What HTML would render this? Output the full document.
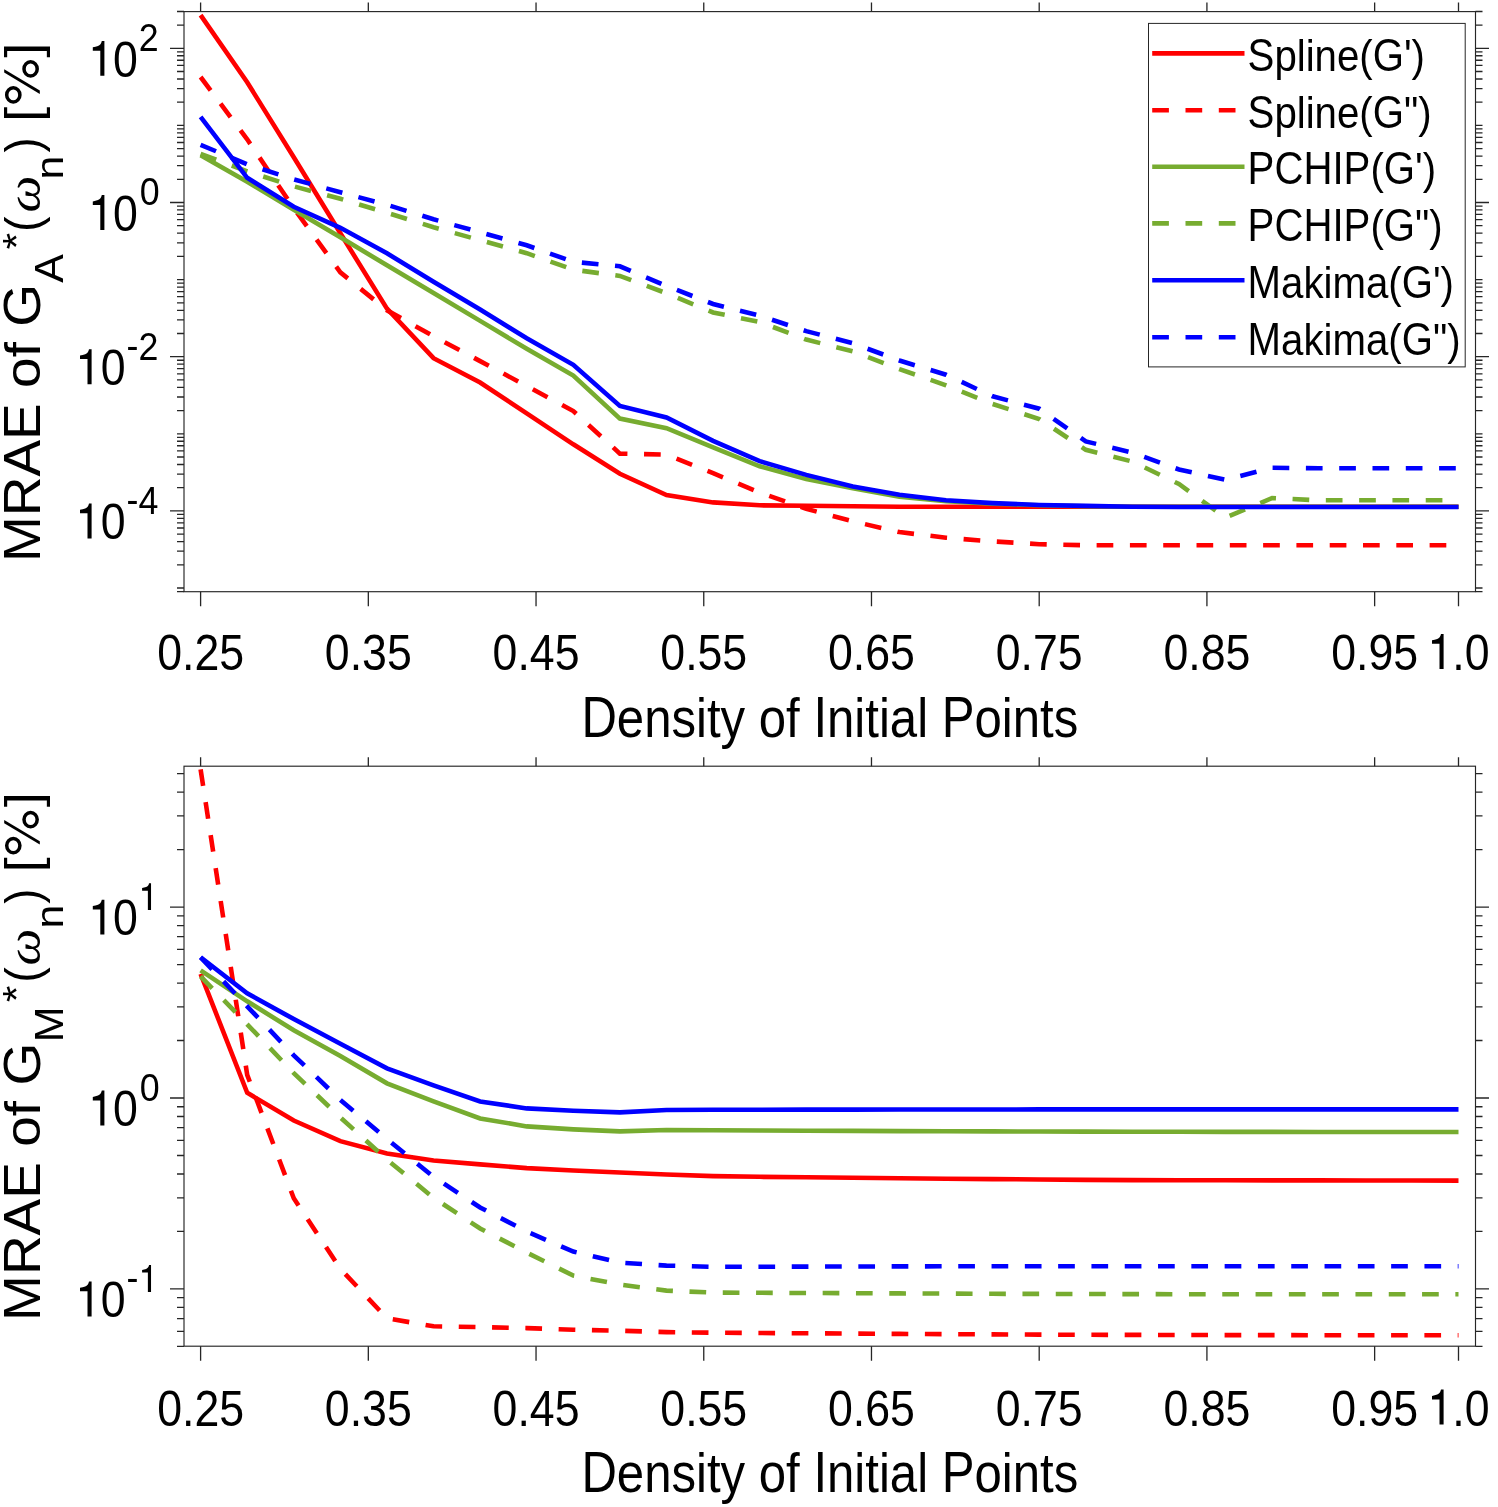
<!DOCTYPE html><html><head><meta charset="utf-8"><title>MRAE</title><style>html,body{margin:0;padding:0;background:#fff}svg{display:block;will-change:transform}text{font-family:"Liberation Sans",sans-serif;fill:#000}</style></head><body>
<svg width="1498" height="1507" viewBox="0 0 1498 1507">
<rect width="1498" height="1507" fill="#fff"/>
<defs></defs>
<clipPath id="c1"><rect x="184" y="11.6" width="1291.5" height="580.1"/></clipPath>
<g clip-path="url(#c1)" fill="none" stroke-width="4.6" stroke-linejoin="miter">
<polyline points="200.6,15.1 247.19,82.3 293.78,157.3 340.37,233.3 386.96,308.7 433.54,358.2 480.13,382.5 526.72,413.3 573.31,444.3 619.9,473.8 666.49,495 713.08,502.4 759.67,505.3 806.26,505.8 852.84,506.3 899.43,506.8 946.02,506.8 992.61,506.8 1039.2,506.8 1085.79,506.8 1132.38,506.8 1178.97,506.8 1225.56,506.8 1272.14,506.8 1318.73,506.8 1365.32,506.8 1411.91,506.8 1458.5,506.8" stroke="#ff0000"/>
<polyline points="200.6,77 247.19,139.3 293.78,208.3 340.37,272.3 386.96,310.3 433.54,336.3 480.13,361.1 526.72,386 573.31,411.1 619.9,453.6 666.49,454.7 713.08,473.2 759.67,492.5 806.26,508.8 852.84,521.3 899.43,532.1 946.02,537.7 992.61,541.4 1039.2,544.2 1085.79,545.3 1132.38,545.3 1178.97,545.3 1225.56,545.3 1272.14,545.3 1318.73,545.3 1365.32,545.3 1411.91,545.3 1458.5,545.3" stroke="#ff0000" stroke-dasharray="16.7 16.6"/>
<polyline points="200.6,155.3 247.19,181.8 293.78,209.8 340.37,237.3 386.96,265.3 433.54,292.9 480.13,320.9 526.72,348.8 573.31,375.5 619.9,418.6 666.49,428.2 713.08,447.3 759.67,466.3 806.26,479.1 852.84,488.3 899.43,496.6 946.02,501.3 992.61,503.7 1039.2,505.3 1085.79,506.3 1132.38,506.8 1178.97,506.8 1225.56,506.8 1272.14,506.8 1318.73,506.8 1365.32,506.8 1411.91,506.8 1458.5,506.8" stroke="#77ac30"/>
<polyline points="200.6,153.8 247.19,171.3 293.78,186.3 340.37,198.8 386.96,212.8 433.54,227.2 480.13,240.2 526.72,253.2 573.31,269.7 619.9,275.9 666.49,293.3 713.08,312.5 759.67,322 806.26,339.6 852.84,351.3 899.43,369.1 946.02,385.3 992.61,404 1039.2,419 1085.79,449.8 1132.38,461.6 1178.97,484 1225.56,517.7 1272.14,498 1318.73,500.3 1365.32,500.3 1411.91,500.3 1458.5,500.3" stroke="#77ac30" stroke-dasharray="16.7 16.6"/>
<polyline points="200.6,116.8 247.19,177.8 293.78,206.8 340.37,227.8 386.96,253.3 433.54,281.8 480.13,309.6 526.72,338.3 573.31,364.8 619.9,405.9 666.49,417.5 713.08,440.9 759.67,461.1 806.26,474.9 852.84,486.4 899.43,494.7 946.02,500.3 992.61,503.1 1039.2,505 1085.79,505.9 1132.38,506.8 1178.97,507 1225.56,507 1272.14,507 1318.73,507 1365.32,507 1411.91,507 1458.5,507" stroke="#0000ff"/>
<polyline points="200.6,144.8 247.19,164.3 293.78,179.3 340.37,192.3 386.96,204.8 433.54,219.3 480.13,232.3 526.72,245.3 573.31,261.8 619.9,266.3 666.49,285.9 713.08,304 759.67,315.7 806.26,331.1 852.84,343.3 899.43,360.5 946.02,374.7 992.61,396.3 1039.2,408.7 1085.79,441.4 1132.38,452.6 1178.97,469.5 1225.56,479.8 1272.14,467.8 1318.73,468.3 1365.32,468.3 1411.91,468.3 1458.5,468.3" stroke="#0000ff" stroke-dasharray="16.7 16.6"/>
</g>
<path d="M177 591.53H184M1475.5 591.53H1482.5M177 588H184M1475.5 588H1482.5M177 564.79H184M1475.5 564.79H1482.5M177 551.21H184M1475.5 551.21H1482.5M177 541.58H184M1475.5 541.58H1482.5M177 534.11H184M1475.5 534.11H1482.5M177 528H184M1475.5 528H1482.5M177 522.84H184M1475.5 522.84H1482.5M177 518.37H184M1475.5 518.37H1482.5M177 514.43H184M1475.5 514.43H1482.5M170 510.9H184M1475.5 510.9H1489M177 487.69H184M1475.5 487.69H1482.5M177 474.11H184M1475.5 474.11H1482.5M177 464.48H184M1475.5 464.48H1482.5M177 457.01H184M1475.5 457.01H1482.5M177 450.9H184M1475.5 450.9H1482.5M177 445.74H184M1475.5 445.74H1482.5M177 441.27H184M1475.5 441.27H1482.5M177 437.33H184M1475.5 437.33H1482.5M177 433.8H184M1475.5 433.8H1482.5M177 410.59H184M1475.5 410.59H1482.5M177 397.01H184M1475.5 397.01H1482.5M177 387.38H184M1475.5 387.38H1482.5M177 379.91H184M1475.5 379.91H1482.5M177 373.8H184M1475.5 373.8H1482.5M177 368.64H184M1475.5 368.64H1482.5M177 364.17H184M1475.5 364.17H1482.5M177 360.23H184M1475.5 360.23H1482.5M170 356.7H184M1475.5 356.7H1489M177 333.49H184M1475.5 333.49H1482.5M177 319.91H184M1475.5 319.91H1482.5M177 310.28H184M1475.5 310.28H1482.5M177 302.81H184M1475.5 302.81H1482.5M177 296.7H184M1475.5 296.7H1482.5M177 291.54H184M1475.5 291.54H1482.5M177 287.07H184M1475.5 287.07H1482.5M177 283.13H184M1475.5 283.13H1482.5M177 279.6H184M1475.5 279.6H1482.5M177 256.39H184M1475.5 256.39H1482.5M177 242.81H184M1475.5 242.81H1482.5M177 233.18H184M1475.5 233.18H1482.5M177 225.71H184M1475.5 225.71H1482.5M177 219.6H184M1475.5 219.6H1482.5M177 214.44H184M1475.5 214.44H1482.5M177 209.97H184M1475.5 209.97H1482.5M177 206.03H184M1475.5 206.03H1482.5M170 202.5H184M1475.5 202.5H1489M177 179.29H184M1475.5 179.29H1482.5M177 165.71H184M1475.5 165.71H1482.5M177 156.08H184M1475.5 156.08H1482.5M177 148.61H184M1475.5 148.61H1482.5M177 142.5H184M1475.5 142.5H1482.5M177 137.34H184M1475.5 137.34H1482.5M177 132.87H184M1475.5 132.87H1482.5M177 128.93H184M1475.5 128.93H1482.5M177 125.4H184M1475.5 125.4H1482.5M177 102.19H184M1475.5 102.19H1482.5M177 88.61H184M1475.5 88.61H1482.5M177 78.98H184M1475.5 78.98H1482.5M177 71.51H184M1475.5 71.51H1482.5M177 65.4H184M1475.5 65.4H1482.5M177 60.24H184M1475.5 60.24H1482.5M177 55.77H184M1475.5 55.77H1482.5M177 51.83H184M1475.5 51.83H1482.5M170 48.3H184M1475.5 48.3H1489M177 25.09H184M1475.5 25.09H1482.5M177 11.51H184M1475.5 11.51H1482.5M200.6 2.6V11.6M200.6 591.7V606.2M368.32 2.6V11.6M368.32 591.7V606.2M536.04 2.6V11.6M536.04 591.7V606.2M703.76 2.6V11.6M703.76 591.7V606.2M871.48 2.6V11.6M871.48 591.7V606.2M1039.2 2.6V11.6M1039.2 591.7V606.2M1206.92 2.6V11.6M1206.92 591.7V606.2M1374.64 2.6V11.6M1374.64 591.7V606.2M1458.5 2.6V11.6M1458.5 591.7V606.2" stroke="#262626" stroke-width="1.3" fill="none"/>
<rect x="184" y="11.6" width="1291.5" height="580.1" fill="none" stroke="#262626" stroke-width="1.15"/>
<rect x="1148.5" y="23.4" width="316.7" height="343.5" fill="#fff" stroke="#262626" stroke-width="1.0"/>
<path d="M1152.2 53.4H1244.5" stroke="#ff0000" stroke-width="4.6"/>
<text transform="translate(1247.6 70.7) scale(0.893 1) translate(0 0) scale(1 1.043)" font-size="45">S</text>
<text transform="translate(1247.6 70.7) scale(0.893 1) translate(30.01 0)" font-size="45">pline(</text>
<text transform="translate(1247.6 70.7) scale(0.893 1) translate(140.08 0) scale(1 1.043)" font-size="45">G</text>
<text transform="translate(1247.6 70.7) scale(0.893 1) translate(175.08 0)" font-size="45">&#39;)</text>
<path d="M1152.2 110.2H1244.5" stroke="#ff0000" stroke-width="4.6" stroke-dasharray="16.7 16.6"/>
<text transform="translate(1247.6 127.5) scale(0.893 1) translate(0 0) scale(1 1.043)" font-size="45">S</text>
<text transform="translate(1247.6 127.5) scale(0.893 1) translate(30.01 0)" font-size="45">pline(</text>
<text transform="translate(1247.6 127.5) scale(0.893 1) translate(140.08 0) scale(1 1.043)" font-size="45">G</text>
<text transform="translate(1247.6 127.5) scale(0.893 1) translate(175.08 0)" font-size="45">&quot;)</text>
<path d="M1152.2 166.7H1244.5" stroke="#77ac30" stroke-width="4.6"/>
<text transform="translate(1247.6 184) scale(0.893 1) translate(0 0) scale(1 1.043)" font-size="45">PCHIP</text>
<text transform="translate(1247.6 184) scale(0.893 1) translate(137.53 0)" font-size="45">(</text>
<text transform="translate(1247.6 184) scale(0.893 1) translate(152.51 0) scale(1 1.043)" font-size="45">G</text>
<text transform="translate(1247.6 184) scale(0.893 1) translate(187.51 0)" font-size="45">&#39;)</text>
<path d="M1152.2 223.4H1244.5" stroke="#77ac30" stroke-width="4.6" stroke-dasharray="16.7 16.6"/>
<text transform="translate(1247.6 240.7) scale(0.893 1) translate(0 0) scale(1 1.043)" font-size="45">PCHIP</text>
<text transform="translate(1247.6 240.7) scale(0.893 1) translate(137.53 0)" font-size="45">(</text>
<text transform="translate(1247.6 240.7) scale(0.893 1) translate(152.51 0) scale(1 1.043)" font-size="45">G</text>
<text transform="translate(1247.6 240.7) scale(0.893 1) translate(187.51 0)" font-size="45">&quot;)</text>
<path d="M1152.2 280.2H1244.5" stroke="#0000ff" stroke-width="4.6"/>
<text transform="translate(1247.6 297.5) scale(0.893 1) translate(0 0) scale(1 1.043)" font-size="45">M</text>
<text transform="translate(1247.6 297.5) scale(0.893 1) translate(37.49 0)" font-size="45">akima(</text>
<text transform="translate(1247.6 297.5) scale(0.893 1) translate(172.51 0) scale(1 1.043)" font-size="45">G</text>
<text transform="translate(1247.6 297.5) scale(0.893 1) translate(207.51 0)" font-size="45">&#39;)</text>
<path d="M1152.2 337.2H1244.5" stroke="#0000ff" stroke-width="4.6" stroke-dasharray="16.7 16.6"/>
<text transform="translate(1247.6 354.5) scale(0.893 1) translate(0 0) scale(1 1.043)" font-size="45">M</text>
<text transform="translate(1247.6 354.5) scale(0.893 1) translate(37.49 0)" font-size="45">akima(</text>
<text transform="translate(1247.6 354.5) scale(0.893 1) translate(172.51 0) scale(1 1.043)" font-size="45">G</text>
<text transform="translate(1247.6 354.5) scale(0.893 1) translate(207.51 0)" font-size="45">&quot;)</text>
<clipPath id="c2"><rect x="184" y="766.2" width="1291.5" height="580"/></clipPath>
<g clip-path="url(#c2)" fill="none" stroke-width="4.6" stroke-linejoin="miter">
<polyline points="200.6,973.8 247.19,1092.8 293.78,1120.5 340.37,1141.1 386.96,1153.4 433.54,1160.5 480.13,1164.4 526.72,1168.1 573.31,1170.5 619.9,1172.5 666.49,1174.5 713.08,1176.1 759.67,1176.8 806.26,1177.3 852.84,1177.8 899.43,1178.3 946.02,1178.7 992.61,1179.1 1039.2,1179.5 1085.79,1179.9 1132.38,1180.1 1178.97,1180.3 1225.56,1180.3 1272.14,1180.4 1318.73,1180.4 1365.32,1180.5 1411.91,1180.5 1458.5,1180.6" stroke="#ff0000"/>
<polyline points="200.6,769.3 247.19,1074.8 293.78,1198.3 340.37,1268.8 386.96,1318.3 433.54,1326.3 480.13,1327.1 526.72,1328.1 573.31,1329.7 619.9,1330.7 666.49,1332.1 713.08,1332.7 759.67,1333 806.26,1333.3 852.84,1333.6 899.43,1333.9 946.02,1334.2 992.61,1334.4 1039.2,1334.6 1085.79,1334.8 1132.38,1334.9 1178.97,1335 1225.56,1335.1 1272.14,1335.1 1318.73,1335.2 1365.32,1335.2 1411.91,1335.3 1458.5,1335.3" stroke="#ff0000" stroke-dasharray="16.7 16.6"/>
<polyline points="200.6,970.3 247.19,1001.3 293.78,1030.3 340.37,1055.9 386.96,1083.3 433.54,1101.3 480.13,1118.4 526.72,1126.4 573.31,1129.4 619.9,1131.4 666.49,1130 713.08,1130.3 759.67,1130.5 806.26,1130.7 852.84,1130.9 899.43,1131.1 946.02,1131.3 992.61,1131.4 1039.2,1131.5 1085.79,1131.6 1132.38,1131.7 1178.97,1131.8 1225.56,1131.9 1272.14,1131.9 1318.73,1132 1365.32,1132 1411.91,1132 1458.5,1132" stroke="#77ac30"/>
<polyline points="200.6,976.3 247.19,1024.3 293.78,1073.1 340.37,1117.4 386.96,1159.6 433.54,1197.8 480.13,1228.5 526.72,1252.6 573.31,1275.6 619.9,1284.6 666.49,1290.6 713.08,1292.6 759.67,1292.8 806.26,1293 852.84,1293.2 899.43,1293.4 946.02,1293.6 992.61,1293.8 1039.2,1293.9 1085.79,1294 1132.38,1294.1 1178.97,1294.2 1225.56,1294.3 1272.14,1294.3 1318.73,1294.3 1365.32,1294.3 1411.91,1294.3 1458.5,1294.3" stroke="#77ac30" stroke-dasharray="16.7 16.6"/>
<polyline points="200.6,957.3 247.19,993.3 293.78,1019.1 340.37,1043.8 386.96,1068.3 433.54,1085.4 480.13,1101.4 526.72,1108.4 573.31,1110.8 619.9,1112.4 666.49,1110 713.08,1109.8 759.67,1109.7 806.26,1109.6 852.84,1109.6 899.43,1109.5 946.02,1109.5 992.61,1109.5 1039.2,1109.4 1085.79,1109.4 1132.38,1109.4 1178.97,1109.4 1225.56,1109.4 1272.14,1109.4 1318.73,1109.4 1365.32,1109.4 1411.91,1109.4 1458.5,1109.4" stroke="#0000ff"/>
<polyline points="200.6,957.3 247.19,1006.3 293.78,1055.3 340.37,1099.9 386.96,1139 433.54,1176.8 480.13,1207.5 526.72,1231.5 573.31,1251.6 619.9,1262.6 666.49,1265.6 713.08,1266.8 759.67,1266.8 806.26,1266.6 852.84,1266.5 899.43,1266.4 946.02,1266.3 992.61,1266.3 1039.2,1266.3 1085.79,1266.2 1132.38,1266.2 1178.97,1266.2 1225.56,1266.2 1272.14,1266.2 1318.73,1266.2 1365.32,1266.2 1411.91,1266.2 1458.5,1266.2" stroke="#0000ff" stroke-dasharray="16.7 16.6"/>
</g>
<path d="M177 1346.43H184M1475.5 1346.43H1482.5M177 1331.31H184M1475.5 1331.31H1482.5M177 1318.53H184M1475.5 1318.53H1482.5M177 1307.45H184M1475.5 1307.45H1482.5M177 1297.69H184M1475.5 1297.69H1482.5M170 1288.95H184M1475.5 1288.95H1489M177 1231.47H184M1475.5 1231.47H1482.5M177 1197.84H184M1475.5 1197.84H1482.5M177 1173.99H184M1475.5 1173.99H1482.5M177 1155.48H184M1475.5 1155.48H1482.5M177 1140.36H184M1475.5 1140.36H1482.5M177 1127.58H184M1475.5 1127.58H1482.5M177 1116.5H184M1475.5 1116.5H1482.5M177 1106.74H184M1475.5 1106.74H1482.5M170 1098H184M1475.5 1098H1489M177 1040.52H184M1475.5 1040.52H1482.5M177 1006.89H184M1475.5 1006.89H1482.5M177 983.04H184M1475.5 983.04H1482.5M177 964.53H184M1475.5 964.53H1482.5M177 949.41H184M1475.5 949.41H1482.5M177 936.63H184M1475.5 936.63H1482.5M177 925.55H184M1475.5 925.55H1482.5M177 915.79H184M1475.5 915.79H1482.5M170 907.05H184M1475.5 907.05H1489M177 849.57H184M1475.5 849.57H1482.5M177 815.94H184M1475.5 815.94H1482.5M177 792.09H184M1475.5 792.09H1482.5M177 773.58H184M1475.5 773.58H1482.5M200.6 757.2V766.2M200.6 1346.2V1360.7M368.32 757.2V766.2M368.32 1346.2V1360.7M536.04 757.2V766.2M536.04 1346.2V1360.7M703.76 757.2V766.2M703.76 1346.2V1360.7M871.48 757.2V766.2M871.48 1346.2V1360.7M1039.2 757.2V766.2M1039.2 1346.2V1360.7M1206.92 757.2V766.2M1206.92 1346.2V1360.7M1374.64 757.2V766.2M1374.64 1346.2V1360.7M1458.5 757.2V766.2M1458.5 1346.2V1360.7" stroke="#262626" stroke-width="1.3" fill="none"/>
<rect x="184" y="766.2" width="1291.5" height="580" fill="none" stroke="#262626" stroke-width="1.15"/>
<text transform="translate(200.6 670) scale(0.893 1)" font-size="50" text-anchor="middle">0.25</text>
<text transform="translate(368.32 670) scale(0.893 1)" font-size="50" text-anchor="middle">0.35</text>
<text transform="translate(536.04 670) scale(0.893 1)" font-size="50" text-anchor="middle">0.45</text>
<text transform="translate(703.76 670) scale(0.893 1)" font-size="50" text-anchor="middle">0.55</text>
<text transform="translate(871.48 670) scale(0.893 1)" font-size="50" text-anchor="middle">0.65</text>
<text transform="translate(1039.2 670) scale(0.893 1)" font-size="50" text-anchor="middle">0.75</text>
<text transform="translate(1206.92 670) scale(0.893 1)" font-size="50" text-anchor="middle">0.85</text>
<text transform="translate(1374.64 670) scale(0.893 1)" font-size="50" text-anchor="middle">0.95</text>
<path transform="translate(1432 668.9) scale(1.0)" d="M11.6 0V-34.9H9.0C8.5 -32.2 7.2 -30.6 5.2 -29.9C3.6 -29.3 1.8 -28.8 0 -28.6V-25.1H7.5V0Z" fill="#000"/>
<text transform="translate(1489.6 670) scale(0.893 1)" font-size="50" text-anchor="end">.0</text>
<text transform="translate(200.6 1425.6) scale(0.893 1)" font-size="50" text-anchor="middle">0.25</text>
<text transform="translate(368.32 1425.6) scale(0.893 1)" font-size="50" text-anchor="middle">0.35</text>
<text transform="translate(536.04 1425.6) scale(0.893 1)" font-size="50" text-anchor="middle">0.45</text>
<text transform="translate(703.76 1425.6) scale(0.893 1)" font-size="50" text-anchor="middle">0.55</text>
<text transform="translate(871.48 1425.6) scale(0.893 1)" font-size="50" text-anchor="middle">0.65</text>
<text transform="translate(1039.2 1425.6) scale(0.893 1)" font-size="50" text-anchor="middle">0.75</text>
<text transform="translate(1206.92 1425.6) scale(0.893 1)" font-size="50" text-anchor="middle">0.85</text>
<text transform="translate(1374.64 1425.6) scale(0.893 1)" font-size="50" text-anchor="middle">0.95</text>
<path transform="translate(1432 1424.5) scale(1.0)" d="M11.6 0V-34.9H9.0C8.5 -32.2 7.2 -30.6 5.2 -29.9C3.6 -29.3 1.8 -28.8 0 -28.6V-25.1H7.5V0Z" fill="#000"/>
<text transform="translate(1489.6 1425.6) scale(0.893 1)" font-size="50" text-anchor="end">.0</text>
<path transform="translate(92.8 75.8) scale(1.0)" d="M11.6 0V-34.9H9.0C8.5 -32.2 7.2 -30.6 5.2 -29.9C3.6 -29.3 1.8 -28.8 0 -28.6V-25.1H7.5V0Z" fill="#000"/>
<text transform="translate(113.1 76.6) scale(0.893 1)" font-size="50">0</text>
<text transform="translate(138.7 51.1) scale(0.93 1)" font-size="38.5">2</text>
<path transform="translate(92.8 230) scale(1.0)" d="M11.6 0V-34.9H9.0C8.5 -32.2 7.2 -30.6 5.2 -29.9C3.6 -29.3 1.8 -28.8 0 -28.6V-25.1H7.5V0Z" fill="#000"/>
<text transform="translate(113.1 230.8) scale(0.893 1)" font-size="50">0</text>
<text transform="translate(139.8 205.3) scale(0.93 1)" font-size="38.5">0</text>
<path transform="translate(80 384.2) scale(1.0)" d="M11.6 0V-34.9H9.0C8.5 -32.2 7.2 -30.6 5.2 -29.9C3.6 -29.3 1.8 -28.8 0 -28.6V-25.1H7.5V0Z" fill="#000"/>
<text transform="translate(100.8 385) scale(0.893 1)" font-size="50">0</text>
<text transform="translate(126.6 359) scale(0.93 1)" font-size="38.5">-</text>
<text transform="translate(138.5 359.5) scale(0.93 1)" font-size="38.5">2</text>
<path transform="translate(80 538.4) scale(1.0)" d="M11.6 0V-34.9H9.0C8.5 -32.2 7.2 -30.6 5.2 -29.9C3.6 -29.3 1.8 -28.8 0 -28.6V-25.1H7.5V0Z" fill="#000"/>
<text transform="translate(100.8 539.2) scale(0.893 1)" font-size="50">0</text>
<text transform="translate(126.6 513.2) scale(0.93 1)" font-size="38.5">-</text>
<text transform="translate(138.5 513.7) scale(0.93 1)" font-size="38.5">4</text>
<path transform="translate(92.8 934.55) scale(1.0)" d="M11.6 0V-34.9H9.0C8.5 -32.2 7.2 -30.6 5.2 -29.9C3.6 -29.3 1.8 -28.8 0 -28.6V-25.1H7.5V0Z" fill="#000"/>
<text transform="translate(113.1 935.35) scale(0.893 1)" font-size="50">0</text>
<path transform="translate(142.1 910.05) scale(0.77)" d="M11.6 0V-34.9H9.0C8.5 -32.2 7.2 -30.6 5.2 -29.9C3.6 -29.3 1.8 -28.8 0 -28.6V-25.1H7.5V0Z" fill="#000"/>
<path transform="translate(92.8 1125.5) scale(1.0)" d="M11.6 0V-34.9H9.0C8.5 -32.2 7.2 -30.6 5.2 -29.9C3.6 -29.3 1.8 -28.8 0 -28.6V-25.1H7.5V0Z" fill="#000"/>
<text transform="translate(113.1 1126.3) scale(0.893 1)" font-size="50">0</text>
<text transform="translate(139.8 1100.8) scale(0.93 1)" font-size="38.5">0</text>
<path transform="translate(80 1316.45) scale(1.0)" d="M11.6 0V-34.9H9.0C8.5 -32.2 7.2 -30.6 5.2 -29.9C3.6 -29.3 1.8 -28.8 0 -28.6V-25.1H7.5V0Z" fill="#000"/>
<text transform="translate(100.8 1317.25) scale(0.893 1)" font-size="50">0</text>
<text transform="translate(126.6 1291.25) scale(0.93 1)" font-size="38.5">-</text>
<path transform="translate(142.1 1291.95) scale(0.77)" d="M11.6 0V-34.9H9.0C8.5 -32.2 7.2 -30.6 5.2 -29.9C3.6 -29.3 1.8 -28.8 0 -28.6V-25.1H7.5V0Z" fill="#000"/>
<text transform="translate(829.8 737.3) scale(0.893 1) translate(-278.18 0) scale(1 1.043)" font-size="55">D</text>
<text transform="translate(829.8 737.3) scale(0.893 1) translate(-238.46 0)" font-size="55">ensity of</text>
<text transform="translate(829.8 737.3) scale(0.893 1) translate(-18.36 0) scale(1 1.043)" font-size="55">I</text>
<text transform="translate(829.8 737.3) scale(0.893 1) translate(-3.07 0)" font-size="55">nitial</text>
<text transform="translate(829.8 737.3) scale(0.893 1) translate(125.32 0) scale(1 1.043)" font-size="55">P</text>
<text transform="translate(829.8 737.3) scale(0.893 1) translate(162.01 0)" font-size="55">oints</text>
<text transform="translate(829.8 1492.2) scale(0.893 1) translate(-278.18 0) scale(1 1.043)" font-size="55">D</text>
<text transform="translate(829.8 1492.2) scale(0.893 1) translate(-238.46 0)" font-size="55">ensity of</text>
<text transform="translate(829.8 1492.2) scale(0.893 1) translate(-18.36 0) scale(1 1.043)" font-size="55">I</text>
<text transform="translate(829.8 1492.2) scale(0.893 1) translate(-3.07 0)" font-size="55">nitial</text>
<text transform="translate(829.8 1492.2) scale(0.893 1) translate(125.32 0) scale(1 1.043)" font-size="55">P</text>
<text transform="translate(829.8 1492.2) scale(0.893 1) translate(162.01 0)" font-size="55">oints</text>
<text transform="translate(39.5 562.1) scale(0.893 1) rotate(-90) translate(0 0) scale(1 1.043)" font-size="55">MRAE</text>
<text transform="translate(39.5 562.1) scale(0.893 1) rotate(-90) translate(174.18 0)" font-size="55">of</text>
<text transform="translate(39.5 562.1) scale(0.893 1) rotate(-90) translate(235.33 0) scale(1 1.043)" font-size="55">G</text>
<text transform="translate(62.7 282.7) scale(0.893 1) rotate(-90) translate(0 0) scale(1 1.043)" font-size="43">A</text>
<text transform="translate(29.6 249.4) scale(0.893 1) rotate(-90)" font-size="43">*</text>
<text transform="translate(39.5 231.7) scale(0.893 1) rotate(-90) scale(0.83 1)" font-size="55">(</text>
<text transform="translate(39.5 212.6) scale(0.893 1) rotate(-90)" font-size="52" style='font-family:"Liberation Serif", serif' font-style="italic">&#969;</text>
<text transform="translate(62.7 179.5) scale(0.893 1) rotate(-90)" font-size="43">n</text>
<text transform="translate(39.5 152.4) scale(0.893 1) rotate(-90) scale(0.83 1)" font-size="55">)</text>
<text transform="translate(39.5 121.9) scale(0.893 1) rotate(-90)" font-size="55">[</text>
<text transform="translate(39.5 57.72) scale(0.893 1) rotate(-90)" font-size="55">]</text>
<g transform="translate(0 0)" fill="none" stroke="#000"><ellipse cx="30.6" cy="68.9" rx="6.6" ry="7.1" stroke-width="3.5"/><ellipse cx="13.3" cy="94.9" rx="6.6" ry="7.1" stroke-width="3.5"/><path d="M4.2 69.3V72.6L39.8 93.9V90.5Z" fill="#000" stroke="none"/></g>
<text transform="translate(39.5 1320.9) scale(0.893 1) rotate(-90) translate(0 0) scale(1 1.043)" font-size="55">MRAE</text>
<text transform="translate(39.5 1320.9) scale(0.893 1) rotate(-90) translate(174.18 0)" font-size="55">of</text>
<text transform="translate(39.5 1320.9) scale(0.893 1) rotate(-90) translate(235.33 0) scale(1 1.043)" font-size="55">G</text>
<text transform="translate(62.7 1042.3) scale(0.893 1) rotate(-90) translate(0 0) scale(1 1.043)" font-size="43">M</text>
<text transform="translate(29.6 1002.2) scale(0.893 1) rotate(-90)" font-size="43">*</text>
<text transform="translate(39.5 982.5) scale(0.893 1) rotate(-90) scale(0.83 1)" font-size="55">(</text>
<text transform="translate(39.5 965.6) scale(0.893 1) rotate(-90)" font-size="52" style='font-family:"Liberation Serif", serif' font-style="italic">&#969;</text>
<text transform="translate(62.7 928.6) scale(0.893 1) rotate(-90)" font-size="43">n</text>
<text transform="translate(39.5 903.8) scale(0.893 1) rotate(-90) scale(0.83 1)" font-size="55">)</text>
<text transform="translate(39.5 872.6) scale(0.893 1) rotate(-90)" font-size="55">[</text>
<text transform="translate(39.5 807.22) scale(0.893 1) rotate(-90)" font-size="55">]</text>
<g transform="translate(0 750.7)" fill="none" stroke="#000"><ellipse cx="30.6" cy="68.9" rx="6.6" ry="7.1" stroke-width="3.5"/><ellipse cx="13.3" cy="94.9" rx="6.6" ry="7.1" stroke-width="3.5"/><path d="M4.2 69.3V72.6L39.8 93.9V90.5Z" fill="#000" stroke="none"/></g>
</svg></body></html>
